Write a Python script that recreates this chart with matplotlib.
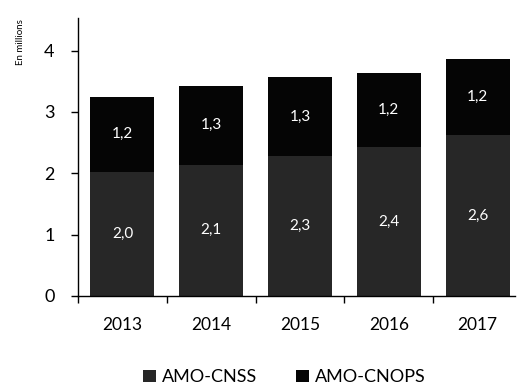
import numpy as np
import matplotlib
matplotlib.use('Agg')
import matplotlib.pyplot as plt

# Data (millions of insured)
years = ['2013', '2014', '2015', '2016', '2017']
amo_cnss = [2.02, 2.14, 2.28, 2.42, 2.62]
amo_cnops = [1.23, 1.29, 1.29, 1.21, 1.24]

plt.rcParams['font.family'] = ['Lato', 'DejaVu Sans']

fig = plt.figure(figsize=(5.17, 3.92), dpi=100)
ax = fig.add_axes([0.151, 0.245, 0.845, 0.709])

x = np.arange(len(years))
width = 0.72
b1 = ax.bar(x, amo_cnss, width, color='#272727', label='AMO-CNSS')
b2 = ax.bar(x, amo_cnops, width, bottom=amo_cnss, color='#050505', label='AMO-CNOPS')

# value labels inside the segments
for i in range(len(years)):
    ax.text(x[i], amo_cnss[i] / 2, f'{amo_cnss[i]:.1f}'.replace('.', ','),
            ha='center', va='center', color='white', fontsize=11)
    ax.text(x[i], amo_cnss[i] + amo_cnops[i] / 2, f'{amo_cnops[i]:.1f}'.replace('.', ','),
            ha='center', va='center', color='white', fontsize=11)

ax.set_xlim(-0.5, 4.42)
ax.set_ylim(0, 4.53)
ax.set_yticks([0, 1, 2, 3, 4])
ax.set_xticks(x)
ax.set_xticklabels(years)
ax.set_xticks(np.arange(-0.5, 4.0, 1.0), minor=True)

ax.spines['top'].set_visible(False)
ax.spines['right'].set_visible(False)
ax.spines['left'].set_linewidth(1.0)
ax.spines['bottom'].set_linewidth(1.0)

ax.tick_params(axis='x', which='major', length=0, pad=15, labelsize=12.5)
ax.tick_params(axis='x', which='minor', length=5, direction='out', width=1.0)
ax.tick_params(axis='y', length=5, direction='out', width=1.0, pad=12, labelsize=13)

fig.text(0.04, 0.893, 'En millions', rotation=90, ha='center', va='center', fontsize=7)

fig.legend(handles=[b1, b2], loc='center', bbox_to_anchor=(0.55, 0.037),
           ncol=2, frameon=False, fontsize=13, handlelength=0.7, handleheight=0.7,
           handletextpad=0.3, columnspacing=2.2)

plt.savefig('out.png', dpi=100)
